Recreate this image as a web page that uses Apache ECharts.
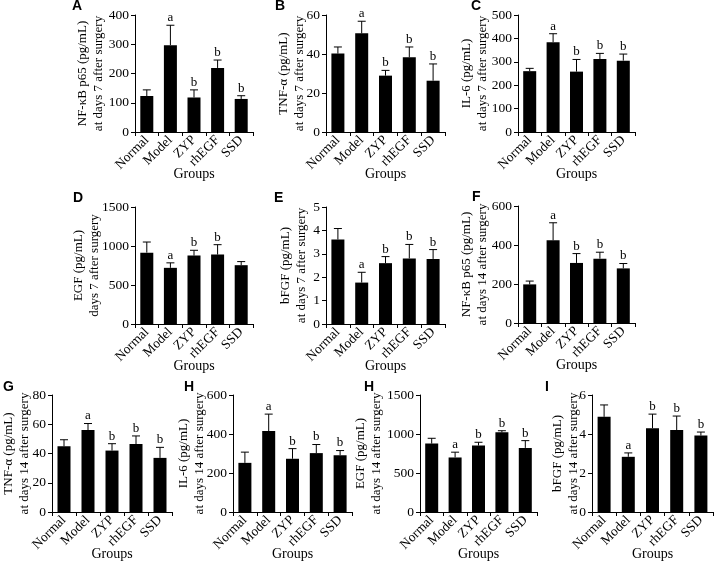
<!DOCTYPE html>
<html><head><meta charset="utf-8">
<script src="https://cdn.jsdelivr.net/npm/echarts@6/dist/echarts.min.js"></script>
<style>html,body{margin:0;padding:0;background:#fff}#c{width:716px;height:561px}</style>
</head><body><div id="c"></div>
<script>
// ---------- DATA ----------
const groups = ['Normal', 'Model', 'ZYP', 'rhEGF', 'SSD'];

// A: NF-kB p65, day 7
const nfkb7Mean = [123, 297, 118, 219, 113];
const nfkb7Err  = [144, 365, 144, 246, 124];
const nfkb7Sig  = ['', 'a', 'b', 'b', 'b'];
// B: TNF-a, day 7
const tnf7Mean = [40.2, 50.6, 28.9, 38.3, 26.3];
const tnf7Err  = [43.6, 56.8, 31.6, 43.6, 34.9];
const tnf7Sig  = ['', 'a', 'b', 'b', 'b'];
// C: IL-6, day 7
const il67Mean = [260, 384, 258, 312, 305];
const il67Err  = [272, 420, 310, 336, 333];
const il67Sig  = ['', 'a', 'b', 'b', 'b'];
// D: EGF, day 7
const egf7Mean = [915, 720, 877, 890, 754];
const egf7Err  = [1051, 784, 945, 1017, 800];
const egf7Sig  = ['', 'a', 'b', 'b', ''];
// E: bFGF, day 7
const bfgf7Mean = [3.61, 1.77, 2.6, 2.8, 2.78];
const bfgf7Err  = [4.08, 2.21, 2.88, 3.4, 3.18];
const bfgf7Sig  = ['', 'a', 'b', 'b', 'b'];
// F: NF-kB p65, day 14
const nfkb14Mean = [198, 424, 308, 330, 280];
const nfkb14Err  = [215, 514, 356, 363, 305];
const nfkb14Sig  = ['', 'a', 'b', 'b', 'b'];
// G: TNF-a, day 14
const tnf14Mean = [44.9, 56, 42, 46.5, 37];
const tnf14Err  = [49.4, 60.5, 46.7, 52, 44.2];
const tnf14Sig  = ['', 'a', 'b', 'b', 'b'];
// H: IL-6, day 14
const il614Mean = [252, 415, 273, 302, 291];
const il614Err  = [307, 502, 325, 346, 315];
const il614Sig  = ['', 'a', 'b', 'b', 'b'];
// H: EGF, day 14
const egf14Mean = [877, 699, 852, 1021, 822];
const egf14Err  = [945, 767, 894, 1042, 915];
const egf14Sig  = ['', 'a', 'b', 'b', 'b'];
// I: bFGF, day 14
const bfgf14Mean = [4.88, 2.83, 4.3, 4.2, 3.92];
const bfgf14Err  = [5.49, 3.03, 5.02, 4.92, 4.1];
const bfgf14Sig  = ['', 'a', 'b', 'b', 'b'];

// axis ranges [max, interval]
const axisA = [400, 100], axisB = [60, 20], axisC = [500, 100], axisD = [1500, 500], axisE = [5, 1];
const axisF = [600, 200], axisG = [80, 20], axisH1 = [600, 200], axisH2 = [1500, 500], axisI = [6, 2];

// ---------- LAYOUT ----------
const SERIF = '"Liberation Serif", "Times New Roman", serif';
const panels = [
  {tag:'A', lx:72,  ly:-1,  g:{left:135, top:15,  width:118, height:117}, ax:axisA, mean:nfkb7Mean, err:nfkb7Err, sig:nfkb7Sig, name:'NF-κB p65 (pg/mL)\nat days 7 after surgery', gap:28},
  {tag:'B', lx:275, ly:-1,  g:{left:326, top:15,  width:119, height:117}, ax:axisB, mean:tnf7Mean, err:tnf7Err, sig:tnf7Sig, name:'TNF-α (pg/mL)\nat days 7 after surgery', gap:18},
  {tag:'C', lx:471, ly:-1,  g:{left:518, top:15,  width:117, height:117}, ax:axisC, mean:il67Mean, err:il67Err, sig:il67Sig, name:'IL-6 (pg/mL)\nat days 7 after surgery', gap:27},
  {tag:'D', lx:73,  ly:191, g:{left:135, top:207, width:118, height:117}, ax:axisD, mean:egf7Mean, err:egf7Err, sig:egf7Sig, name:'EGF (pg/mL)\ndays 7 after surgery', gap:32},
  {tag:'E', lx:274, ly:191, g:{left:326, top:207, width:119, height:117}, ax:axisE, mean:bfgf7Mean, err:bfgf7Err, sig:bfgf7Sig, name:'bFGF (pg/mL)\nat days 7 after surgery', gap:16},
  {tag:'F', lx:472, ly:190, g:{left:518, top:206, width:117, height:117}, ax:axisF, mean:nfkb14Mean, err:nfkb14Err, sig:nfkb14Sig, name:'NF-κB p65 (pg/mL)\nat days 14 after surgery', gap:27},
  {tag:'G', lx:3,   ly:380, g:{left:52,  top:395, width:120, height:117}, ax:axisG, mean:tnf14Mean, err:tnf14Err, sig:tnf14Sig, name:'TNF-α (pg/mL)\nat days 14 after surgery', gap:19},
  {tag:'H', lx:184, ly:380, g:{left:233, top:395, width:119, height:117}, ax:axisH1, mean:il614Mean, err:il614Err, sig:il614Sig, name:'IL-6 (pg/mL)\nat days 14 after surgery', gap:25},
  {tag:'H', lx:364, ly:380, g:{left:420, top:395, width:117, height:117}, ax:axisH2, mean:egf14Mean, err:egf14Err, sig:egf14Sig, name:'EGF (pg/mL)\nat days 14 after surgery', gap:35},
  {tag:'I', lx:545, ly:380, g:{left:592, top:395, width:121, height:117}, ax:axisI, mean:bfgf14Mean, err:bfgf14Err, sig:bfgf14Sig, name:'bFGF (pg/mL)\nat days 14 after surgery', gap:10}
];

const grid = [], xAxis = [], yAxis = [], series = [], graphic = [];
panels.forEach((p, k) => {
  grid.push(Object.assign({containLabel:false, outerBoundsMode:'none'}, p.g));
  xAxis.push({
    type:'category', gridIndex:k, data:groups, boundaryGap:true,
    axisLine:{lineStyle:{color:'#000', width:1}},
    axisTick:{show:true, length:4, lineStyle:{color:'#000'}},
    axisLabel:{interval:0, rotate:45, margin:6, color:'#000', fontFamily:SERIF, fontSize:13.5},
    name:'Groups', nameLocation:'middle', nameGap:35, nameMoveOverlap:false,
    nameTextStyle:{color:'#000', fontFamily:SERIF, fontSize:14},
    splitLine:{show:false}
  });
  yAxis.push({
    type:'value', gridIndex:k, min:0, max:p.ax[0], interval:p.ax[1],
    axisLine:{show:true, lineStyle:{color:'#000', width:1}},
    axisTick:{show:true, length:4, lineStyle:{color:'#000'}},
    axisLabel:{margin:6, color:'#000', fontFamily:SERIF, fontSize:13.5, formatter:(v) => String(v)},
    splitLine:{show:false},
    name:p.name, nameLocation:'middle', nameGap:p.gap, nameMoveOverlap:false,
    nameTextStyle:{color:'#000', fontFamily:SERIF, fontSize:13, lineHeight:16, align:'center'}
  });
  series.push({
    type:'bar', xAxisIndex:k, yAxisIndex:k, data:p.mean, barWidth:13,
    itemStyle:{color:'#000'}, silent:true, animation:false, z:2
  });
  const sig = p.sig;
  series.push({
    type:'custom', xAxisIndex:k, yAxisIndex:k, animation:false, silent:true, z:3,
    data: groups.map((g, i) => [i, p.mean[i], p.err[i]]),
    encode:{x:0, y:[1, 2]},
    renderItem: function(params, api){
      const i = api.value(0);
      const base = api.coord([i, api.value(1)]);
      const top = api.coord([i, api.value(2)]);
      const children = [
        {type:'line', shape:{x1:base[0], y1:base[1], x2:top[0], y2:top[1]}, style:{stroke:'#000', lineWidth:1}},
        {type:'line', shape:{x1:top[0]-4, y1:top[1], x2:top[0]+4, y2:top[1]}, style:{stroke:'#000', lineWidth:1}}
      ];
      const s = sig[params.dataIndex];
      if (s) children.push({type:'text', x:top[0], y:top[1]-1,
        style:{text:s, fill:'#000', font:'13px ' + SERIF, textAlign:'center', textVerticalAlign:'bottom'}});
      return {type:'group', children};
    }
  });
  graphic.push({type:'text', left:p.lx, top:p.ly,
    style:{text:p.tag, fill:'#000', font:'bold 14px "Liberation Sans", Arial, sans-serif'}});
});

const chart = echarts.init(document.getElementById('c'), null, {renderer:'canvas'});
chart.setOption({animation:false, backgroundColor:'#fff', grid, xAxis, yAxis, series, graphic});
</script>
</body></html>
